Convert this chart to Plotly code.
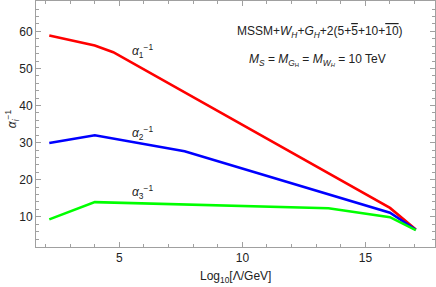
import plotly.graph_objects as go

# Data
red_x = [2.15, 4.0, 4.75, 16.0, 17.05]
red_y = [58.9, 56.2, 54.4, 12.4, 6.6]
blue_x = [2.15, 4.0, 7.65, 16.0, 17.05]
blue_y = [29.9, 32.0, 27.7, 11.1, 6.5]
green_x = [2.15, 4.0, 13.5, 16.0, 17.05]
green_y = [9.3, 13.95, 12.3, 9.9, 6.4]

x_ticks = [5, 10, 15]
y_ticks = [10, 20, 30, 40, 50, 60]

fig = go.Figure()
for xs, ys, col in [(red_x, red_y, "#FF0000"), (blue_x, blue_y, "#0000FF"), (green_x, green_y, "#00FF00")]:
    fig.add_trace(go.Scatter(x=xs, y=ys, mode="lines", line=dict(color=col, width=2.6), showlegend=False))

FAM = "Liberation Sans, Arial, sans-serif"
font = dict(family=FAM, size=12, color="#222222")
ann = [
    dict(x=5.95, y=54.6, text="<i>α</i><sub>1</sub><sup>−1</sup>"),
    dict(x=5.95, y=32.6, text="<i>α</i><sub>2</sub><sup>−1</sup>"),
    dict(x=5.95, y=16.6, text="<i>α</i><sub>3</sub><sup>−1</sup>"),
    dict(x=13.15, y=59.9, text="MSSM+<i>W</i><sub><i>H</i></sub>+<i>G</i><sub><i>H</i></sub>+2(5+<span style=\"text-decoration:overline\">5</span>+10+<span style=\"text-decoration:overline\">10</span>)"),
    dict(x=13.05, y=52.4, text="<i>M</i><sub><i>S</i></sub> = <i>M</i><sub><i>G</i><sub>H</sub></sub> = <i>M</i><sub><i>W</i><sub><i>H</i></sub></sub> = 10 TeV"),
]
for a in ann:
    fig.add_annotation(x=a["x"], y=a["y"], text=a["text"], showarrow=False, font=font,
                       xanchor="center", yanchor="middle")

# axis titles as paper annotations
fig.add_annotation(xref="paper", yref="paper", x=0.5, y=-0.12, text="Log<sub>10</sub>[Λ/GeV]",
                   showarrow=False, font=font, xanchor="center", yanchor="middle")
fig.add_annotation(xref="paper", yref="paper", x=-0.06, y=0.52, text="<i>α</i><sub><i>i</i></sub><sup>−1</sup>",
                   showarrow=False, font=font, xanchor="center", yanchor="middle", textangle=-90)

axis_common = dict(showgrid=False, zeroline=False, showline=True, linecolor="#A0A0A0", linewidth=1,
                   mirror="ticks", ticks="inside", ticklen=5, tickcolor="#A0A0A0", tickwidth=1,
                   automargin=False,
                   tickfont=dict(family=FAM, size=12, color="#222222"))

fig.update_xaxes(range=[1.61, 17.83], tickvals=x_ticks, **axis_common,
                 minor=dict(dtick=1, tick0=0, ticks="inside", ticklen=3, tickcolor="#A0A0A0", showgrid=False))
fig.update_yaxes(range=[1.85, 68.2], tickvals=y_ticks, **axis_common,
                 minor=dict(dtick=2, tick0=0, ticks="inside", ticklen=3, tickcolor="#A0A0A0", showgrid=False))

fig.update_layout(width=436, height=287, margin=dict(l=36, r=1, t=1, b=40),
                  plot_bgcolor="white", paper_bgcolor="white")
fig.write_html("out.html", config={"displayModeBar": False},
               post_script="document.body.style.margin='0';document.body.style.overflow='hidden';")
